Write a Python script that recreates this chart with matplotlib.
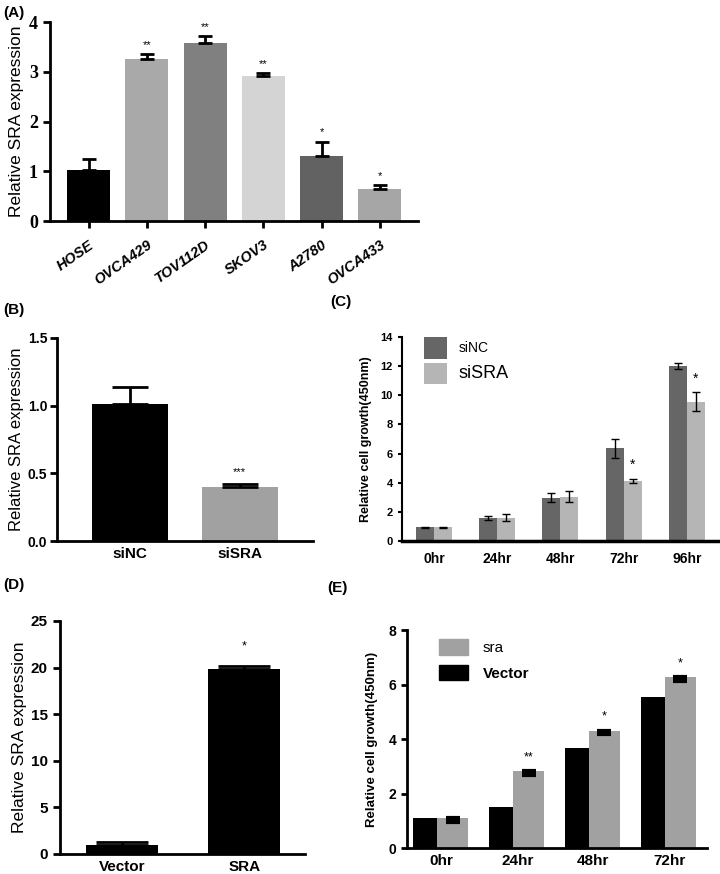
import numpy as np
import matplotlib
matplotlib.use('Agg')
import matplotlib.pyplot as plt
from matplotlib.patches import Patch

plt.rcParams.update({
    'font.family': 'Liberation Sans',
    'axes.linewidth': 2,
    'xtick.major.width': 2,
    'ytick.major.width': 2,
})

# ── (A) cell lines ────────────────────────────────────────────────────────────
lines_a = ['HOSE', 'OVCA429', 'TOV112D', 'SKOV3', 'A2780', 'OVCA433']
expr_a = [1.02, 3.25, 3.58, 2.91, 1.30, 0.64]
err_a = [0.23, 0.10, 0.14, 0.07, 0.30, 0.08]
stars_a = ['', '**', '**', '**', '*', '*']
colors_a = ['#000000', '#a9a9a9', '#808080', '#d4d4d4', '#626262', '#a6a6a6']

# ── (B) knockdown ─────────────────────────────────────────────────────────────
groups_b = ['siNC', 'siSRA']
expr_b = [1.01, 0.40]
err_b = [0.13, 0.02]

# ── (C) growth after knockdown ────────────────────────────────────────────────
times_c = ['0hr', '24hr', '48hr', '72hr', '96hr']
sinc_c = [0.93, 1.60, 2.97, 6.35, 12.0]
sinc_err = [0.03, 0.15, 0.30, 0.65, 0.22]
sisra_c = [0.93, 1.60, 3.05, 4.12, 9.55]
sisra_err = [0.03, 0.22, 0.37, 0.15, 0.65]
stars_c = ['', '', '', '*', '*']

# ── (D) overexpression ────────────────────────────────────────────────────────
groups_d = ['Vector', 'SRA']
expr_d = [1.0, 19.8]
err_d = [0.3, 0.4]

# ── (E) growth after overexpression ───────────────────────────────────────────
times_e = ['0hr', '24hr', '48hr', '72hr']
vector_e = [1.10, 1.49, 3.66, 5.53]
sra_e = [1.10, 2.82, 4.30, 6.26]
sra_err = [0.14, 0.14, 0.12, 0.14]
stars_e = ['', '**', '*', '*']

fig = plt.figure(figsize=(7.2, 8.74), dpi=100)


def style(ax):
    for s in ['top', 'right']:
        ax.spines[s].set_visible(False)


# Panel A
ax = fig.add_axes([0.069, 0.747, 0.512, 0.2277])
style(ax)
x = np.arange(len(lines_a))
ax.bar(x, expr_a, width=0.74, color=colors_a)
ax.errorbar(x, expr_a, yerr=[np.zeros(len(x)), err_a], fmt='none',
            ecolor='black', elinewidth=2, capsize=5, capthick=2)
for xi, v, e, s in zip(x, expr_a, err_a, stars_a):
    if s:
        ax.text(xi, v + e + 0.08, s, ha='center', va='bottom', fontsize=8)
ax.set_xlim(-0.67, 5.66)
ax.set_ylim(0, 4)
ax.set_yticks([0, 1, 2, 3, 4])
ax.set_yticklabels(['0', '1', '2', '3', '4'])
for lbl in ax.get_yticklabels():
    lbl.set_fontfamily('Liberation Serif')
    lbl.set_fontweight('bold')
    lbl.set_fontsize(13)
ax.set_xticks(x)
ax.set_xticklabels(lines_a, rotation=35, ha='right', rotation_mode='anchor',
                   fontweight='bold', fontstyle='italic', fontsize=10.5)
ax.tick_params(axis='x', length=5, pad=7)
ax.tick_params(axis='y', length=5)
ax.set_ylabel('Relative SRA expression', fontsize=12.5)
ax.yaxis.set_label_coords(-0.071, 0.5)
fig.text(0.005, 0.985, '(A)', fontsize=11, fontweight='bold', va='center')

# Panel B
ax = fig.add_axes([0.079, 0.381, 0.356, 0.2323])
style(ax)
x = np.arange(len(groups_b))
ax.bar(x, expr_b, width=0.69, color=['#000000', '#a1a1a1'])
ax.errorbar(x, expr_b, yerr=[np.zeros(len(x)), err_b], fmt='none',
            ecolor='black', elinewidth=2, capsize=13, capthick=2)
ax.text(1, expr_b[1] + err_b[1] + 0.05, '***', ha='center', va='bottom', fontsize=8)
ax.set_xlim(-0.67, 1.67)
ax.set_ylim(0, 1.5)
ax.set_yticks([0, 0.5, 1.0, 1.5])
ax.set_yticklabels(['0.0', '0.5', '1.0', '1.5'], fontweight='bold', fontsize=10)
ax.set_xticks(x)
ax.set_xticklabels(groups_b, fontweight='bold', fontsize=11)
ax.tick_params(axis='x', length=0, pad=4)
ax.tick_params(axis='y', length=5, pad=2)
ax.set_ylabel('Relative SRA expression', fontsize=12)
ax.yaxis.set_label_coords(-0.13, 0.5)
fig.text(0.005, 0.645, '(B)', fontsize=11, fontweight='bold', va='center')

# Panel C
ax = fig.add_axes([0.558, 0.381, 0.439, 0.2334])
style(ax)
ax.spines['left'].set_linewidth(1.5)
ax.spines['bottom'].set_linewidth(2.5)
x = np.arange(len(times_c))
w = 0.285
ax.bar(x - w / 2, sinc_c, width=w, color='#666666', label='siNC')
ax.bar(x + w / 2, sisra_c, width=w, color='#b5b5b5', label='siSRA')
ax.errorbar(x - w / 2, sinc_c, yerr=sinc_err, fmt='none', ecolor='black',
            elinewidth=1, capsize=3, capthick=1)
ax.errorbar(x + w / 2, sisra_c, yerr=sisra_err, fmt='none', ecolor='black',
            elinewidth=1, capsize=3, capthick=1)
for xi, v, e, s in zip(x, sisra_c, sisra_err, stars_c):
    if s:
        ax.text(xi + w / 2, v + e + 0.45, s, ha='center', va='bottom', fontsize=10)
ax.set_xlim(-0.51, 4.49)
ax.set_ylim(0, 14)
ax.set_yticks(range(0, 15, 2))
ax.set_yticklabels([str(v) for v in range(0, 15, 2)], fontweight='bold', fontsize=8)
ax.set_xticks(x)
ax.set_xticklabels(times_c, fontweight='bold', fontsize=10)
ax.tick_params(axis='x', length=0, pad=8)
ax.tick_params(axis='y', length=3, width=1.5)
ax.set_ylabel('Relative cell growth(450nm)', fontsize=9, fontweight='bold')
ax.yaxis.set_label_coords(-0.095, 0.5)
leg = ax.legend(loc='upper left', bbox_to_anchor=(0.03, 1.06), frameon=False,
                handlelength=1.7, handleheight=2.0, labelspacing=0.3,
                handletextpad=0.8, fontsize=10)
leg.get_texts()[1].set_fontsize(13)
fig.text(0.458, 0.654, '(C)', fontsize=11, fontweight='bold', va='center')

# Panel D
ax = fig.add_axes([0.083, 0.0229, 0.341, 0.2666])
style(ax)
x = np.arange(len(groups_d))
ax.bar(x, expr_d, width=0.59, color='#000000')
ax.errorbar(x, expr_d, yerr=[np.zeros(len(x)), err_d], fmt='none',
            ecolor='black', elinewidth=2, capsize=19, capthick=2)
ax.text(1, expr_d[1] + err_d[1] + 1.4, '*', ha='center', va='bottom', fontsize=9)
ax.set_xlim(-0.51, 1.5)
ax.set_ylim(0, 25)
ax.set_yticks(range(0, 26, 5))
ax.set_yticklabels([str(v) for v in range(0, 26, 5)], fontweight='bold', fontsize=11)
ax.set_xticks(x)
ax.set_xticklabels(groups_d, fontweight='bold', fontsize=11)
ax.tick_params(axis='x', length=0, pad=4)
ax.tick_params(axis='y', length=5)
ax.set_ylabel('Relative SRA expression', fontsize=12.5)
ax.yaxis.set_label_coords(-0.135, 0.5)
fig.text(0.005, 0.331, '(D)', fontsize=11, fontweight='bold', va='center')

# Panel E
ax = fig.add_axes([0.565, 0.0297, 0.417, 0.2494])
style(ax)
x = np.arange(len(times_e))
ax.bar(x - 0.214, vector_e, width=0.325, color='#000000', label='Vector')
ax.bar(x + 0.149, sra_e, width=0.40, color='#a1a1a1', label='sra')
ax.errorbar(x + 0.149, sra_e, yerr=[sra_err, np.zeros(len(x))], fmt='none',
            ecolor='black', elinewidth=0, capsize=5, capthick=3)
for xi, v, s in zip(x, sra_e, stars_e):
    if s:
        ax.text(xi + 0.149, v + 0.3, s, ha='center', va='bottom', fontsize=9)
ax.set_xlim(-0.455, 3.5)
ax.set_ylim(0, 8)
ax.set_yticks(range(0, 9, 2))
ax.set_yticklabels([str(v) for v in range(0, 9, 2)], fontweight='bold', fontsize=10)
ax.set_xticks(x)
ax.set_xticklabels(times_e, fontweight='bold', fontsize=11)
ax.tick_params(axis='x', length=0, pad=4)
ax.tick_params(axis='y', length=4)
ax.set_ylabel('Relative cell growth(450nm)', fontsize=9.5, fontweight='bold')
ax.yaxis.set_label_coords(-0.097, 0.5)
handles = [Patch(color='#a1a1a1'), Patch(color='#000000')]
leg = ax.legend(handles, ['sra', 'Vector'], loc='upper left',
                bbox_to_anchor=(0.06, 1.02), frameon=False, handlelength=1.9,
                handleheight=1.2, labelspacing=0.6, handletextpad=1.0, fontsize=11)
leg.get_texts()[1].set_fontweight('bold')
fig.text(0.454, 0.327, '(E)', fontsize=11, fontweight='bold', va='center')

fig.savefig('out.png', dpi=100)
